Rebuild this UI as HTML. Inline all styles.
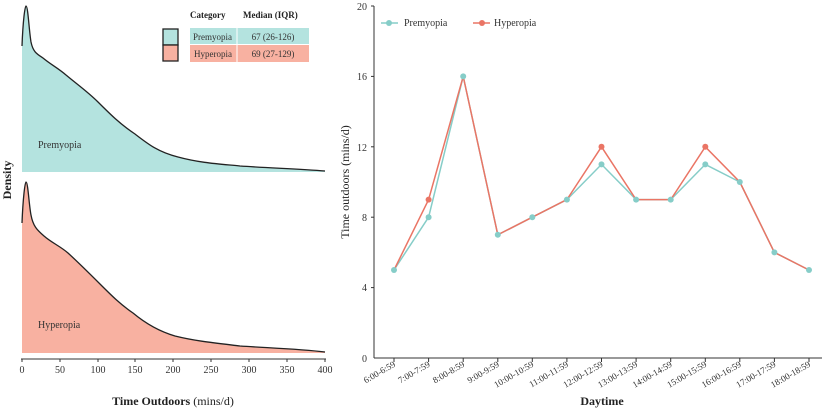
<!DOCTYPE html>
<html><head><meta charset="utf-8"><style>
body{margin:0;background:#fff;}
svg{display:block;font-family:"Liberation Serif",serif;}
</style></head><body>
<svg width="831" height="410" viewBox="0 0 831 410">
<path d="M22,172 L22,46 C23,20 25,6 26,6 C28,6 29,30 31,42 C33,52 37,54 43,58 C50,64 58,68 66,75 C78,85 88,92 98,102 C110,114 120,124 135,134 C148,144 158,152 178,157 C200,163 220,164 240,166 C270,168 300,169 325,171 L325,172 Z" fill="#b4e3df"/>
<path d="M22,46 C23,20 25,6 26,6 C28,6 29,30 31,42 C33,52 37,54 43,58 C50,64 58,68 66,75 C78,85 88,92 98,102 C110,114 120,124 135,134 C148,144 158,152 178,157 C200,163 220,164 240,166 C270,168 300,169 325,171" fill="none" stroke="#222" stroke-width="1.3"/>
<path d="M22,353 L22,223 C23,198 25,182 26,182 C28,182 29,205 31,215 C33,226 37,230 44,236 C52,243 60,246 68,253 C80,264 90,274 100,284 C112,296 120,304 133,313 C145,323 158,331 175,336 C195,341 215,343 240,346 C270,348 300,349 325,352 L325,353 Z" fill="#f8b1a1"/>
<path d="M22,223 C23,198 25,182 26,182 C28,182 29,205 31,215 C33,226 37,230 44,236 C52,243 60,246 68,253 C80,264 90,274 100,284 C112,296 120,304 133,313 C145,323 158,331 175,336 C195,341 215,343 240,346 C270,348 300,349 325,352" fill="none" stroke="#222" stroke-width="1.3"/>
<text x="38" y="148" font-size="10" fill="#333">Premyopia</text>
<text x="38" y="328" font-size="10" fill="#333">Hyperopia</text>
<line x1="21" y1="359" x2="326" y2="359" stroke="#333" stroke-width="1"/>
<g stroke="#333"><line x1="22" y1="359" x2="22" y2="362"/><line x1="60" y1="359" x2="60" y2="362"/><line x1="98" y1="359" x2="98" y2="362"/><line x1="135" y1="359" x2="135" y2="362"/><line x1="173" y1="359" x2="173" y2="362"/><line x1="211" y1="359" x2="211" y2="362"/><line x1="249" y1="359" x2="249" y2="362"/><line x1="287" y1="359" x2="287" y2="362"/><line x1="325" y1="359" x2="325" y2="362"/></g>
<g font-size="10" fill="#333" text-anchor="middle"><text x="22" y="373">0</text><text x="60" y="373">50</text><text x="98" y="373">100</text><text x="135" y="373">150</text><text x="173" y="373">200</text><text x="211" y="373">250</text><text x="249" y="373">300</text><text x="287" y="373">350</text><text x="325" y="373">400</text></g>
<text x="173" y="405" font-size="12" text-anchor="middle" fill="#222"><tspan font-weight="bold">Time Outdoors</tspan> (mins/d)</text>
<text transform="translate(11,180) rotate(-90)" font-size="12" font-weight="bold" text-anchor="middle" fill="#222">Density</text>
<text x="190" y="18" font-size="9" font-weight="bold" fill="#222">Category</text>
<text x="243" y="18" font-size="9" font-weight="bold" fill="#222">Median (IQR)</text>
<rect x="190" y="28" width="119" height="16" fill="#b4e3df"/>
<rect x="190" y="45" width="119" height="17" fill="#f8b1a1"/>
<line x1="237" y1="28" x2="237" y2="62" stroke="#fff" stroke-width="1"/>
<text x="193" y="40" font-size="9" fill="#333">Premyopia</text>
<text x="273" y="40" font-size="9" fill="#333" text-anchor="middle">67 (26-126)</text>
<text x="194" y="57" font-size="9" fill="#333">Hyperopia</text>
<text x="273" y="57" font-size="9" fill="#333" text-anchor="middle">69 (27-129)</text>
<rect x="163" y="29" width="15" height="16" fill="#b4e3df" stroke="#222" stroke-width="1.3"/>
<rect x="163" y="45" width="15" height="16" fill="#f8b1a1" stroke="#222" stroke-width="1.3"/>
<line x1="374" y1="6" x2="374" y2="358" stroke="#333"/>
<line x1="374" y1="358" x2="822" y2="358" stroke="#333"/>
<g stroke="#333"><line x1="371" y1="6" x2="374" y2="6"/><line x1="371" y1="76.4" x2="374" y2="76.4"/><line x1="371" y1="146.8" x2="374" y2="146.8"/><line x1="371" y1="217.2" x2="374" y2="217.2"/><line x1="371" y1="287.6" x2="374" y2="287.6"/></g>
<g font-size="10" fill="#333" text-anchor="end"><text x="367" y="10">20</text><text x="367" y="80">16</text><text x="367" y="151">12</text><text x="367" y="221">8</text><text x="367" y="291">4</text><text x="367" y="362">0</text></g>
<text transform="translate(349,182) rotate(-90)" font-size="12" text-anchor="middle" fill="#222">Time outdoors (mins/d)</text>
<g stroke="#333"><line x1="394" y1="358" x2="394" y2="362"/><line x1="428.6" y1="358" x2="428.6" y2="362"/><line x1="463.2" y1="358" x2="463.2" y2="362"/><line x1="497.8" y1="358" x2="497.8" y2="362"/><line x1="532.3" y1="358" x2="532.3" y2="362"/><line x1="566.9" y1="358" x2="566.9" y2="362"/><line x1="601.5" y1="358" x2="601.5" y2="362"/><line x1="636.1" y1="358" x2="636.1" y2="362"/><line x1="670.7" y1="358" x2="670.7" y2="362"/><line x1="705.3" y1="358" x2="705.3" y2="362"/><line x1="739.8" y1="358" x2="739.8" y2="362"/><line x1="774.4" y1="358" x2="774.4" y2="362"/><line x1="809" y1="358" x2="809" y2="362"/></g>
<g font-size="9" fill="#333" text-anchor="end">
<text transform="translate(396,366) rotate(-30)">6:00-6:59</text>
<text transform="translate(430.6,366) rotate(-30)">7:00-7:59</text>
<text transform="translate(465.2,366) rotate(-30)">8:00-8:59</text>
<text transform="translate(499.8,366) rotate(-30)">9:00-9:59</text>
<text transform="translate(534.3,366) rotate(-30)">10:00-10:59</text>
<text transform="translate(568.9,366) rotate(-30)">11:00-11:59</text>
<text transform="translate(603.5,366) rotate(-30)">12:00-12:59</text>
<text transform="translate(638.1,366) rotate(-30)">13:00-13:59</text>
<text transform="translate(672.7,366) rotate(-30)">14:00-14:59</text>
<text transform="translate(707.3,366) rotate(-30)">15:00-15:59</text>
<text transform="translate(741.8,366) rotate(-30)">16:00-16:59</text>
<text transform="translate(776.4,366) rotate(-30)">17:00-17:59</text>
<text transform="translate(811,366) rotate(-30)">18:00-18:59</text>
</g>
<text x="602" y="405" font-size="12" font-weight="bold" text-anchor="middle" fill="#222">Daytime</text>
<polyline fill="none" stroke="#86cdc8" stroke-width="1.5" points="394,270 428.6,217.2 463.2,76.4 497.8,234.8 532.3,217.2 566.9,199.6 601.5,164.4 636.1,199.6 670.7,199.6 705.3,164.4 739.8,182 774.4,252.4 809,270"/>
<polyline fill="none" stroke="#ea7565" stroke-width="1.5" points="394,270 428.6,199.6 463.2,76.4 497.8,234.8 532.3,217.2 566.9,199.6 601.5,146.8 636.1,199.6 670.7,199.6 705.3,146.8 739.8,182 774.4,252.4 809,270"/>
<g fill="#ea7565"><circle cx="428.6" cy="199.6" r="3"/><circle cx="601.5" cy="146.8" r="3"/><circle cx="705.3" cy="146.8" r="3"/></g>
<g fill="#86cdc8"><circle cx="394" cy="270" r="3"/><circle cx="428.6" cy="217.2" r="3"/><circle cx="463.2" cy="76.4" r="3"/><circle cx="497.8" cy="234.8" r="3"/><circle cx="532.3" cy="217.2" r="3"/><circle cx="566.9" cy="199.6" r="3"/><circle cx="601.5" cy="164.4" r="3"/><circle cx="636.1" cy="199.6" r="3"/><circle cx="670.7" cy="199.6" r="3"/><circle cx="705.3" cy="164.4" r="3"/><circle cx="739.8" cy="182" r="3"/><circle cx="774.4" cy="252.4" r="3"/><circle cx="809" cy="270" r="3"/></g>
<line x1="381" y1="23" x2="398" y2="23" stroke="#86cdc8" stroke-width="1.5"/><circle cx="389" cy="23" r="3" fill="#86cdc8"/>
<text x="404" y="26" font-size="10" fill="#333">Premyopia</text>
<line x1="473" y1="23" x2="490" y2="23" stroke="#ea7565" stroke-width="1.5"/><circle cx="482" cy="23" r="3" fill="#ea7565"/>
<text x="494" y="26" font-size="10" fill="#333">Hyperopia</text>
</svg>
</body></html>
